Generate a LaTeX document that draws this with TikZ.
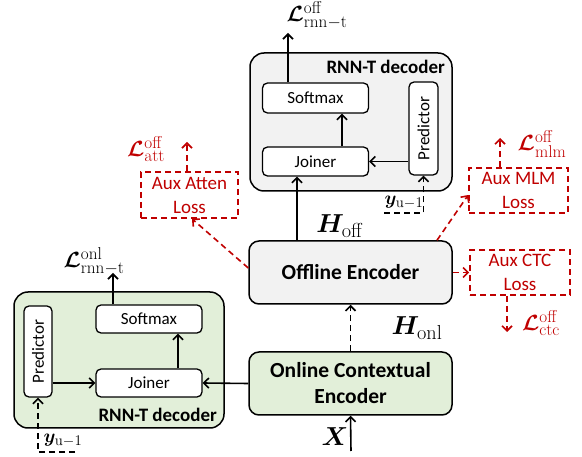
\RequirePackage{fix-cm}
\documentclass[tikz,border=0pt]{standalone}
\usepackage{amsmath,bm}
\usepackage[no-math]{fontspec}
\setmainfont{Carlito}
\usetikzlibrary{arrows.meta}
\def\defaultscriptratio{.78}
\definecolor{auxred}{RGB}{192,0,0}
\definecolor{encgreen}{RGB}{226,239,217}
\definecolor{decgrey}{RGB}{242,242,242}

\tikzset{
  box/.style={draw, line width=1.3pt, rounded corners=5pt, fill=white, inner sep=0pt,
    font=\fontsize{17}{20}\selectfont},
  container/.style={draw, line width=1.5pt, rounded corners=14pt, inner sep=0pt},
  enc/.style={draw, line width=1.5pt, rounded corners=10pt, inner sep=0pt, align=center,
    minimum width=203pt, minimum height=63pt, font=\bfseries\fontsize{21.5}{26}\selectfont},
  declabel/.style={anchor=east, inner sep=0pt, font=\bfseries\fontsize{19}{20}\selectfont},
  aux/.style={draw=auxred, dash pattern=on 6pt off 4pt, line width=1.6pt, text=auxred,
    align=center, inner sep=0pt, font=\fontsize{19}{24}\selectfont},
  arr/.style={-{Straight Barb[length=5pt,width=10pt]}, line width=1.6pt},
  dsh/.style={dash pattern=on 6pt off 4pt},
  rarr/.style={arr, auxred, dash pattern=on 6pt off 4pt},
  mlabel/.style={inner sep=0pt, font=\fontsize{22}{26}\selectfont},
  rlabel/.style={mlabel, text=auxred},
  ylabel/.style={inner sep=0pt, font=\fontsize{19}{22}\selectfont},
  hlabel/.style={inner sep=0pt, font=\fontsize{26}{28}\selectfont},
}

\begin{document}
\begin{tikzpicture}[x=1pt,y=-1pt]
\useasboundingbox (0,0) rectangle (582,457);

% ---- offline RNN-T decoder (top) ----
\node[container, fill=decgrey, minimum width=202pt, minimum height=138pt] (dec1) at (351,122) {};
\node[declabel] (dec1lab) at (445,67) {RNN-T decoder};
\node[box, minimum width=106pt, minimum height=30pt] (sm1) at (315.5,98) {Softmax};
\node[box, minimum width=106pt, minimum height=29pt] (jn1) at (315.5,161.5) {Joiner};
\node[box, minimum width=29pt, minimum height=93pt] (pr1) at (423.5,128.5) {\rotatebox{90}{Predictor}};
\coordinate (out1) at (288,33);
\node[mlabel] (l1) at (317,15) {$\bm{\mathcal{L}}^{\mathrm{off}}_{\mathrm{rnn-t}}$};
\draw[arr] (sm1.north -| out1) -- (out1);
\draw[arr] ([xshift=26.5pt]jn1.north) -- ([xshift=26.5pt]sm1.south);
\draw[arr] (pr1.west |- jn1.east) -- (jn1.east);
\coordinate (y1a) at (384,213);
\draw[arr, dsh] (y1a) -- (pr1.south |- y1a) -- (pr1.south);
\node[ylabel] (y1) at (404,202) {$\bm{y}_{\mathrm{u-1}}$};

% ---- encoders ----
\node[enc, fill=decgrey] (offenc) at (350.5,272.5) {Offline Encoder};
\node[enc, fill=encgreen] (onenc) at (350.5,383.5) {Online Contextual\\Encoder};
\draw[arr] ([xshift=-53.5pt]offenc.north) -- ([xshift=-18.5pt]jn1.south);
\node[hlabel] (hoff) at (340,226) {$\bm{H}_{\mathrm{off}}$};
\draw[arr, dsh] (onenc.north) -- (offenc.south);
\node[hlabel] (honl) at (417,328) {$\bm{H}_{\mathrm{onl}}$};
\coordinate (xin) at (351,451);
\draw[arr] (xin) -- (onenc.south);
\node[hlabel] (xlab) at (335,437) {$\bm{X}$};

% ---- online RNN-T decoder (bottom left) ----
\node[container, fill=encgreen, minimum width=210pt, minimum height=136pt] (dec2) at (119,360) {};
\node[declabel] (dec2lab) at (217,415) {RNN-T decoder};
\node[box, minimum width=106pt, minimum height=28pt] (sm2) at (149,319) {Softmax};
\node[box, minimum width=106pt, minimum height=28pt] (jn2) at (149,383) {Joiner};
\node[box, minimum width=28pt, minimum height=91pt] (pr2) at (38,351.5) {\rotatebox{90}{Predictor}};
\coordinate (out2) at (113,273);
\node[mlabel] (l2) at (94,261) {$\bm{\mathcal{L}}^{\mathrm{onl}}_{\mathrm{rnn-t}}$};
\draw[arr] (sm2.north -| out2) -- (out2);
\draw[arr] ([xshift=29pt]jn2.north) -- ([xshift=29pt]sm2.south);
\draw[arr] (pr2.east |- jn2.west) -- (jn2.west);
\draw[arr] (onenc.west) -- (jn2.east);
\coordinate (y2a) at (75,452);
\draw[arr, dsh] (y2a) -- (pr2.south |- y2a) -- (pr2.south);
\node[ylabel] (y2) at (63,440) {$\bm{y}_{\mathrm{u-1}}$};

% ---- auxiliary losses ----
\node[aux, minimum width=97pt, minimum height=46pt] (aatt) at (189.5,195) {Aux Atten\\Loss};
\node[aux, minimum width=99pt, minimum height=45pt] (amlm) at (518.5,190.5) {Aux MLM\\Loss};
\node[aux, minimum width=100pt, minimum height=45pt] (actc) at (520,272.5) {Aux CTC\\Loss};

\coordinate (oatt) at (187,142);
\draw[rarr] (aatt.north -| oatt) -- (oatt);
\node[rlabel] (latt) at (146,149) {$\bm{\mathcal{L}}^{\mathrm{off}}_{\mathrm{att}}$};
\draw[rarr] ([yshift=4.5pt]offenc.west) -- ([xshift=2.5pt]aatt.south);

\coordinate (omlm) at (500,138);
\draw[rarr] (amlm.north -| omlm) -- (omlm);
\node[rlabel] (lmlm) at (542,144) {$\bm{\mathcal{L}}^{\mathrm{off}}_{\mathrm{mlm}}$};
\draw[rarr] ([xshift=86.5pt]offenc.north) -- ([yshift=-4.5pt]amlm.west);

\coordinate (octc) at (507,332);
\draw[rarr] (actc.south -| octc) -- (octc);
\node[rlabel] (lctc) at (541,323) {$\bm{\mathcal{L}}^{\mathrm{off}}_{\mathrm{ctc}}$};
\draw[rarr] (offenc.east) -- (actc.west);
\end{tikzpicture}
\end{document}
